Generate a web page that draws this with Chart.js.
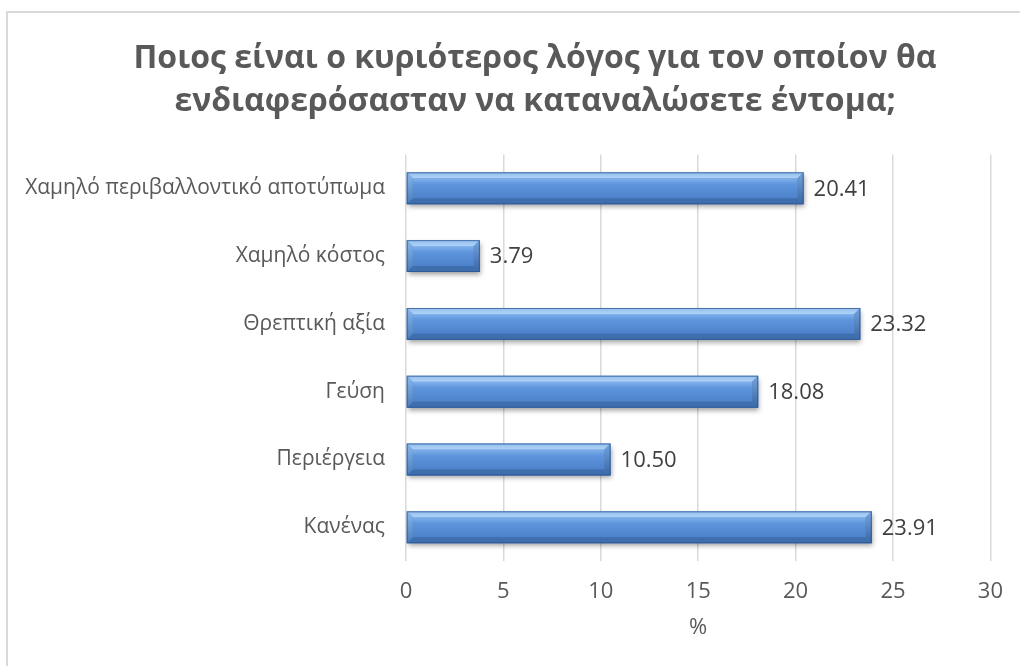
<!DOCTYPE html>
<html>
<head>
<meta charset="utf-8">
<script src="https://cdn.jsdelivr.net/npm/chart.js@4"></script>
<style>
  html, body { margin: 0; padding: 0; background: #fff; }
  #wrap { position: relative; width: 1020px; height: 666px; }
</style>
</head>
<body>
<div id="wrap"><canvas id="chart" width="1020" height="666"></canvas></div>
<script>
'use strict';

const categories = [
  'Χαμηλό περιβαλλοντικό αποτύπωμα',
  'Χαμηλό κόστος',
  'Θρεπτική αξία',
  'Γεύση',
  'Περιέργεια',
  'Κανένας',
];
const percentages = [20.41, 3.79, 23.32, 18.08, 10.50, 23.91];
const xTicks = [0, 5, 10, 15, 20, 25, 30];
const titleLines = [
  'Ποιος είναι ο κυριότερος λόγος για τον οποίον θα',
  'ενδιαφερόσασταν να καταναλώσετε έντομα;',
];

const FONT = '"Open Sans", "Noto Sans", sans-serif';
const TEXT = '#595959';
const CAT_SIZE = 21;
const NUM_SIZE = 22;

// light grey frame round the whole chart (right and bottom edges run off the page)
const framePlugin = {
  id: 'frame',
  beforeDraw(chart) {
    const ctx = chart.ctx;
    ctx.save();
    ctx.strokeStyle = '#d9d9d9';
    ctx.lineWidth = 2;
    ctx.strokeRect(7, 12, chart.width + 20, chart.height + 20);
    ctx.restore();
  },
};

// title is centred a bit right of the canvas middle
const titleOffset = {
  id: 'titleOffset',
  afterLayout(chart) {
    if (chart.titleBlock) chart.titleBlock.left = 79;
  },
};

// soft drop shadow under the bars
const shadowPlugin = {
  id: 'barShadow',
  beforeDatasetDraw(chart) {
    const ctx = chart.ctx;
    ctx.save();
    ctx.shadowColor = 'rgba(0,0,0,0.38)';
    ctx.shadowBlur = 5;
    ctx.shadowOffsetX = 1;
    ctx.shadowOffsetY = 3;
  },
  afterDatasetDraw(chart) {
    chart.ctx.restore();
  },
};

// bevelled face on each bar + value labels
const bevelPlugin = {
  id: 'bevel',
  afterDatasetsDraw(chart) {
    const ctx = chart.ctx;
    const meta = chart.getDatasetMeta(0);
    const b = 6;
    meta.data.forEach((bar, i) => {
      const left = Math.min(bar.base, bar.x);
      const right = Math.max(bar.base, bar.x);
      const top = bar.y - bar.height / 2;
      const bottom = bar.y + bar.height / 2;
      ctx.save();

      // face
      const face = ctx.createLinearGradient(0, top + b, 0, bottom - b);
      face.addColorStop(0, '#80b1ec');
      face.addColorStop(0.3, '#5e95dc');
      face.addColorStop(1, '#4d82ca');
      ctx.fillStyle = face;
      ctx.fillRect(left + b, top + b, right - left - 2 * b, bottom - top - 2 * b);

      // top bevel
      const topG = ctx.createLinearGradient(0, top, 0, top + b);
      topG.addColorStop(0, '#93bfef');
      topG.addColorStop(1, '#b0d2f7');
      ctx.fillStyle = topG;
      ctx.beginPath();
      ctx.moveTo(left, top);
      ctx.lineTo(right, top);
      ctx.lineTo(right - b, top + b);
      ctx.lineTo(left + b, top + b);
      ctx.closePath();
      ctx.fill();

      // bottom bevel
      ctx.fillStyle = '#3f6eaf';
      ctx.beginPath();
      ctx.moveTo(left, bottom);
      ctx.lineTo(right, bottom);
      ctx.lineTo(right - b, bottom - b);
      ctx.lineTo(left + b, bottom - b);
      ctx.closePath();
      ctx.fill();

      // right bevel
      const rG = ctx.createLinearGradient(0, top, 0, bottom);
      rG.addColorStop(0, '#74a4de');
      rG.addColorStop(1, '#3a66a3');
      ctx.fillStyle = rG;
      ctx.beginPath();
      ctx.moveTo(right, top);
      ctx.lineTo(right, bottom);
      ctx.lineTo(right - b, bottom - b);
      ctx.lineTo(right - b, top + b);
      ctx.closePath();
      ctx.fill();

      // left bevel
      const lG = ctx.createLinearGradient(0, top, 0, bottom);
      lG.addColorStop(0, '#8ab8ec');
      lG.addColorStop(1, '#4a7bbd');
      ctx.fillStyle = lG;
      ctx.beginPath();
      ctx.moveTo(left, top);
      ctx.lineTo(left, bottom);
      ctx.lineTo(left + b, bottom - b);
      ctx.lineTo(left + b, top + b);
      ctx.closePath();
      ctx.fill();

      // thin dark outline
      ctx.strokeStyle = 'rgba(40,80,140,0.7)';
      ctx.lineWidth = 1;
      ctx.strokeRect(left + 0.5, top + 0.5, right - left - 1, bottom - top - 1);

      // value label
      ctx.fillStyle = '#404040';
      ctx.font = NUM_SIZE + 'px ' + FONT;
      ctx.textAlign = 'left';
      ctx.textBaseline = 'middle';
      ctx.fillText(percentages[i].toFixed(2), right + 10, bar.y + 1);
      ctx.restore();
    });
  },
};

new Chart(document.getElementById('chart'), {
  type: 'bar',
  data: {
    labels: categories,
    datasets: [{
      data: percentages,
      backgroundColor: '#4f81bd',
      borderWidth: 0,
      barPercentage: 0.47,
      categoryPercentage: 1,
    }],
  },
  options: {
    indexAxis: 'y',
    responsive: false,
    animation: false,
    events: [],
    layout: { padding: { left: 10, right: 29, top: 0, bottom: 25 } },
    plugins: {
      legend: { display: false },
      tooltip: { enabled: false },
      title: {
        display: true,
        text: titleLines,
        color: TEXT,
        font: { family: FONT, size: 32, weight: 'bold', lineHeight: 1.35 },
        padding: { top: 37, bottom: 31 },
      },
    },
    scales: {
      x: {
        min: 0,
        max: 30,
        afterBuildTicks: (s) => { s.ticks = xTicks.map(v => ({ value: v })); },
        grid: { color: '#d9d9d9', lineWidth: 1.5, drawTicks: false },
        border: { display: false },
        ticks: {
          color: TEXT,
          padding: 17,
          font: { family: FONT, size: NUM_SIZE },
        },
        title: {
          display: true,
          text: '%',
          color: TEXT,
          font: { family: FONT, size: NUM_SIZE },
          padding: { top: -7, bottom: 0 },
        },
      },
      y: {
        grid: { display: false },
        border: { display: false },
        afterFit: (s) => { s.width = 396; },
        ticks: {
          color: TEXT,
          padding: 13,
          font: { family: FONT, size: CAT_SIZE },
        },
      },
    },
  },
  plugins: [framePlugin, titleOffset, shadowPlugin, bevelPlugin],
});
</script>
</body>
</html>
